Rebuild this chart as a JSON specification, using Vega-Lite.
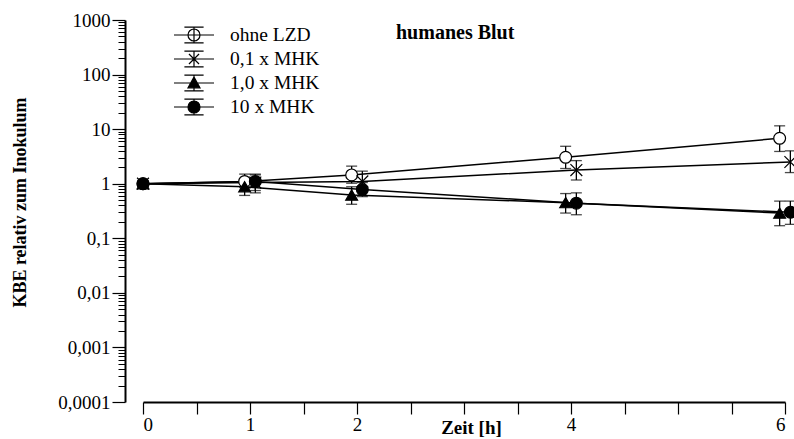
{
  "$schema": "https://vega.github.io/schema/vega-lite/v6.json",
  "autosize": "none",
  "padding": {"left": 143, "top": 20, "right": 9, "bottom": 37},
  "width": 642,
  "height": 382,
  "background": "white",
  "title": {"text": "humanes Blut", "anchor": "start", "frame": "group", "dx": 253, "dy": 28, "offset": -20, "baseline": "alphabetic", "font": "Liberation Serif", "fontSize": 20, "fontWeight": "bold", "color": "black"},
  "config": {
    "view": {"stroke": null},
    "axis": {"domainColor": "black", "domainWidth": 2, "tickColor": "black", "tickWidth": 1.2, "labelColor": "black", "labelFont": "Liberation Serif", "labelFontSize": 19, "grid": false, "titleFont": "Liberation Serif", "titleFontSize": 18, "titleFontWeight": "bold", "titleColor": "black"},
    "legend": {"orient": "none", "legendX": 38, "legendY": 2, "symbolSize": 576, "labelOffset": 23, "labelFont": "Liberation Serif", "labelFontSize": 19.5, "labelColor": "black", "rowPadding": 0, "padding": 0, "symbolStrokeWidth": 1.2, "symbolStrokeColor": "black", "symbolOpacity": 1}
  },
  "data": {"values": [
    {"series": "ohne LZD", "t": 0, "v": 1, "lo": null, "hi": null},
    {"series": "ohne LZD", "t": 0.95, "v": 1.1, "lo": 0.85, "hi": 1.5},
    {"series": "ohne LZD", "t": 1.95, "v": 1.45, "lo": 1.02, "hi": 2.1},
    {"series": "ohne LZD", "t": 3.95, "v": 3.05, "lo": 1.9, "hi": 4.85},
    {"series": "ohne LZD", "t": 5.95, "v": 6.8, "lo": 3.9, "hi": 11.5},
    {"series": "0,1 x MHK", "t": 0, "v": 1, "lo": null, "hi": null},
    {"series": "0,1 x MHK", "t": 1.05, "v": 1.05, "lo": 0.75, "hi": 1.45},
    {"series": "0,1 x MHK", "t": 2.05, "v": 1.1, "lo": 0.75, "hi": 1.7},
    {"series": "0,1 x MHK", "t": 4.05, "v": 1.78, "lo": 1.17, "hi": 2.65},
    {"series": "0,1 x MHK", "t": 6.05, "v": 2.5, "lo": 1.6, "hi": 4.0},
    {"series": "1,0 x MHK", "t": 0, "v": 1, "lo": null, "hi": null},
    {"series": "1,0 x MHK", "t": 0.95, "v": 0.88, "lo": 0.61, "hi": 1.2},
    {"series": "1,0 x MHK", "t": 1.95, "v": 0.62, "lo": 0.42, "hi": 0.88},
    {"series": "1,0 x MHK", "t": 3.95, "v": 0.45, "lo": 0.29, "hi": 0.66},
    {"series": "1,0 x MHK", "t": 5.95, "v": 0.29, "lo": 0.17, "hi": 0.48},
    {"series": "10 x MHK", "t": 0, "v": 1, "lo": null, "hi": null},
    {"series": "10 x MHK", "t": 1.05, "v": 1.1, "lo": 0.68, "hi": 1.5},
    {"series": "10 x MHK", "t": 2.05, "v": 0.78, "lo": 0.58, "hi": 1.05},
    {"series": "10 x MHK", "t": 4.05, "v": 0.44, "lo": 0.27, "hi": 0.68},
    {"series": "10 x MHK", "t": 6.05, "v": 0.3, "lo": 0.18, "hi": 0.48}
  ]},
  "encoding": {
    "x": {"field": "t", "type": "quantitative", "scale": {"domain": [0, 6], "nice": false, "zero": false},
      "axis": {"values": [0, 0.5, 1, 1.5, 2, 2.5, 3, 3.5, 4, 4.5, 5, 5.5, 6], "tickSize": 12, "labelPadding": 1,
        "labelFont": "Liberation Serif", "labelFontSize": 19, "labelColor": "black",
        "labelExpr": "datum.value == 0 || datum.value == 1 || datum.value == 2 || datum.value == 4 || datum.value == 6 ? toString(datum.value) : ''",
        "title": "Zeit [h]", "titleFont": "Liberation Serif", "titleFontWeight": "bold", "titleX": 328, "titleY": 31, "titleBaseline": "alphabetic", "titleAlign": "center", "titleFontSize": 19}}
  },
  "layer": [
    {
      "mark": {"type": "line", "color": "black", "strokeWidth": 1.5},
      "encoding": {
        "y": {"field": "v", "type": "quantitative", "scale": {"type": "log", "domain": [0.0001, 1000], "nice": false},
          "axis": {"orient": "left", "offset": 18, "values": [0.0001, 0.001, 0.01, 0.1, 1, 10, 100, 1000], "tickSize": 13, "labelPadding": 2,
            "labelFont": "Liberation Serif", "labelFontSize": 19, "labelColor": "black",
            "labelExpr": "replace(toString(datum.value), '.', ',')",
            "title": "KBE relativ zum Inokulum", "titleFont": "Liberation Serif", "titleFontWeight": "bold", "titleX": -105, "titleY": 182, "titleBaseline": "middle", "titleAlign": "center"}},
        "detail": {"field": "series"},
        "order": {"field": "t"}
      }
    },
    {
      "mark": {"type": "errorbar", "color": "black", "thickness": 1.3, "ticks": {"size": 11}},
      "encoding": {
        "y": {"field": "lo", "type": "quantitative", "scale": {"type": "log", "domain": [0.0001, 1000], "nice": false}, "axis": null},
        "y2": {"field": "hi"}
      }
    },
    {
      "mark": {"type": "point", "stroke": "black", "strokeWidth": 1.2, "size": 140, "opacity": 1},
      "encoding": {
        "y": {"field": "v", "type": "quantitative", "scale": {"type": "log", "domain": [0.0001, 1000], "nice": false},
          "axis": {"orient": "left", "offset": 18, "values": [0.0002,0.0003,0.0004,0.0005,0.0006,0.0007,0.0008,0.0009,0.002,0.003,0.004,0.005,0.006,0.007,0.008,0.009,0.02,0.03,0.04,0.05,0.06,0.07,0.08,0.09,0.2,0.3,0.4,0.5,0.6,0.7,0.8,0.9,2,3,4,5,6,7,8,9,20,30,40,50,60,70,80,90,200,300,400,500,600,700,800,900], "tickSize": 7, "tickWidth": 1, "labels": false, "domain": false, "title": null}},
        "shape": {"field": "series", "type": "nominal", "legend": null,
          "scale": {"domain": ["ohne LZD", "0,1 x MHK", "1,0 x MHK", "10 x MHK"], "range": ["circle", "M-1,-1L1,1M-1,1L1,-1", "triangle-up", "circle"]}},
        "fill": {"field": "series", "type": "nominal", "legend": null,
          "scale": {"domain": ["ohne LZD", "0,1 x MHK", "1,0 x MHK", "10 x MHK"], "range": ["white", "transparent", "black", "black"]}}
      }
    },
    {
      "transform": [{"filter": "false"}],
      "mark": {"type": "point", "filled": false, "strokeWidth": 1.2, "opacity": 1},
      "encoding": {
        "y": {"field": "v", "type": "quantitative", "scale": {"type": "log", "domain": [0.0001, 1000], "nice": false}, "axis": null},
        "shape": {"field": "series", "type": "nominal", "title": null,
          "legend": {"symbolOpacity": 1, "symbolStrokeWidth": 1.2},
          "scale": {"domain": ["ohne LZD", "0,1 x MHK", "1,0 x MHK", "10 x MHK"], "range": [
            "M-1.667,0H1.667M0,-0.65V0.65M-0.8,-0.65H0.8M-0.8,0.65H0.8M-0.5,0A0.5,0.5,0,1,1,0.5,0A0.5,0.5,0,1,1,-0.5,0Z",
            "M-1.667,0H1.667M0,-0.65V0.65M-0.8,-0.65H0.8M-0.8,0.65H0.8M-0.42,-0.42L0.42,0.42M-0.42,0.42L0.42,-0.42",
            "M-1.667,0H1.667M0,-0.65V0.65M-0.8,-0.65H0.8M-0.8,0.65H0.8M0,-0.5L0.5,0.4L-0.5,0.4Z",
            "M-1.667,0H1.667M0,-0.65V0.65M-0.8,-0.65H0.8M-0.8,0.65H0.8M-0.5,0A0.5,0.5,0,1,1,0.5,0A0.5,0.5,0,1,1,-0.5,0Z"]}},
        "fill": {"field": "series", "type": "nominal", "title": null,
          "legend": {"symbolOpacity": 1, "symbolStrokeWidth": 1.2},
          "scale": {"domain": ["ohne LZD", "0,1 x MHK", "1,0 x MHK", "10 x MHK"], "range": ["white", "transparent", "black", "black"]}},
        "stroke": {"field": "series", "type": "nominal", "title": null,
          "legend": {"symbolOpacity": 1, "symbolStrokeWidth": 1.2},
          "scale": {"domain": ["ohne LZD", "0,1 x MHK", "1,0 x MHK", "10 x MHK"], "range": ["black", "black", "black", "black"]}}
      }
    }
  ],
  "resolve": {"scale": {"shape": "independent", "fill": "independent", "stroke": "independent"}, "axis": {"y": "independent"}}
}
